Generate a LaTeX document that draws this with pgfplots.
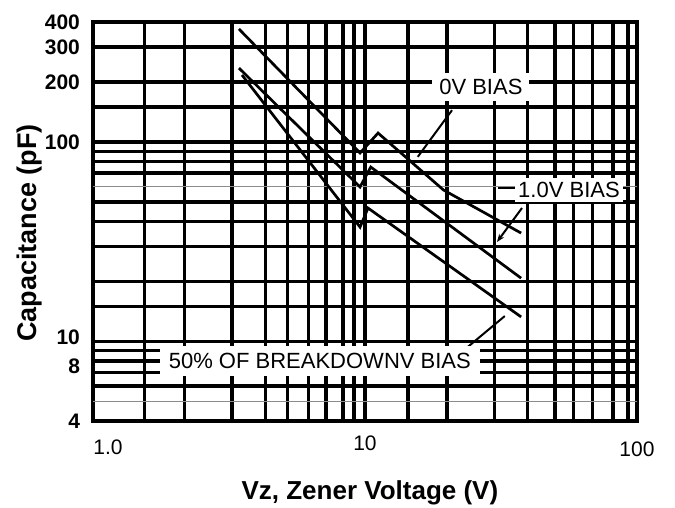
\documentclass[border=0pt]{standalone}
\usepackage{fontspec}
\setmainfont{Liberation Sans}
\usepackage{pgfplots}
\pgfplotsset{compat=1.18}
\usetikzlibrary{arrows.meta}
\begin{document}
\begin{tikzpicture}
\begin{axis}[
  at={(0,0)}, anchor=south west,
  xmode=log, ymode=log,
  width=272pt, height=199.5pt, scale only axis,
  xmin=1, xmax=100, ymin=4, ymax=400,
  xtick={1,1.55,2.17,3.24,4.3,5.2,6.2,7.2,8.3,9.1,10,14.4,20,30,39.5,50,58.4,68.7,81.5,92.6,100},
  xticklabels={\hspace*{15pt}\rule{0pt}{9.1pt}1.0,,,,,,,,,,10,,,,,,,,,,\rule{0pt}{10.1pt}100},
  ytick={4,6,7,8,9,10,15,20,30,40,50,70,80,90,100,150,200,300,400},
  yticklabels={4,,,\raisebox{0pt}[13pt][0pt]{8},,\raisebox{0pt}[7.6pt][5pt]{10},,,,,,,,,100,,200,300,400},
  minor xtick={}, minor ytick={},
  major tick length=0pt,
  grid=major,
  major grid style={black, line width=1.7pt},
  axis line style={black, line width=1.7pt},
  clip=false,
  tick label style={font=\fontsize{10.5}{12}\selectfont},
  xticklabel style={yshift=-4pt},
  yticklabel style={xshift=-3pt, font=\bfseries\fontsize{10.5}{12}\selectfont},
]
% faint gray lines
\addplot[black!45, line width=0.8pt] coordinates {(1,60) (100,60)};
\addplot[black!45, line width=0.8pt] coordinates {(1,5) (100,5)};
% 0V bias
\addplot[black, line width=1.35pt] coordinates {(3.44,369) (9.59,88.2) (11.17,111) (19.45,57.5) (37.5,35)};
% 1.0V bias
\addplot[black, line width=1.35pt] coordinates {(3.44,235) (9.59,59.6) (10.5,75) (37.5,20.8)};
% 50% of breakdown
\addplot[black, line width=1.35pt] coordinates {(3.53,217) (9.59,37.5) (10.26,46.7) (37.5,13.3)};
% leaders
\draw[black, line width=1pt] (rel axis cs:0.66,0.779) -- (rel axis cs:0.597,0.662);
\draw[black, line width=1pt, -{Stealth[length=4pt,width=3pt]}] (rel axis cs:0.7886,0.5338) -- (rel axis cs:0.7426,0.4486);
\draw[black, line width=1pt] (rel axis cs:0.757,0.263) -- (rel axis cs:0.684,0.180);
\draw[black, line width=1.2pt] (rel axis cs:0.7445,0.584) -- (rel axis cs:0.7757,0.584);
\draw[black, line width=1.2pt] (rel axis cs:0.974,0.584) -- (rel axis cs:0.987,0.584);
% label boxes
\node[fill=white, inner xsep=3.5pt, inner ysep=0pt, minimum height=14pt, font=\fontsize{11}{13}\selectfont] at (rel axis cs:0.713,0.837) {0V BIAS};
\node[fill=white, inner xsep=1.6pt, inner ysep=0pt, minimum height=12pt, font=\fontsize{11}{13}\selectfont] at (rel axis cs:0.875,0.579) {1.0V BIAS};
\node[fill=white, inner xsep=4.5pt, inner ysep=0pt, minimum height=15pt, font=\fontsize{11}{13}\selectfont] at (rel axis cs:0.417,0.150) {50\% OF BREAKDOWNV BIAS};
% axis labels
\node[font=\bfseries\fontsize{13}{15}\selectfont] at (rel axis cs:0.509,-0.18) {Vz, Zener Voltage (V)};
\node[rotate=90, font=\bfseries\fontsize{13.5}{15}\selectfont] at (rel axis cs:-0.116,0.471) {Capacitance (pF)};
\end{axis}
\pgfresetboundingbox
\path (-46.5pt,-43.5pt) rectangle (291pt,210.5pt);
\end{tikzpicture}
\end{document}
